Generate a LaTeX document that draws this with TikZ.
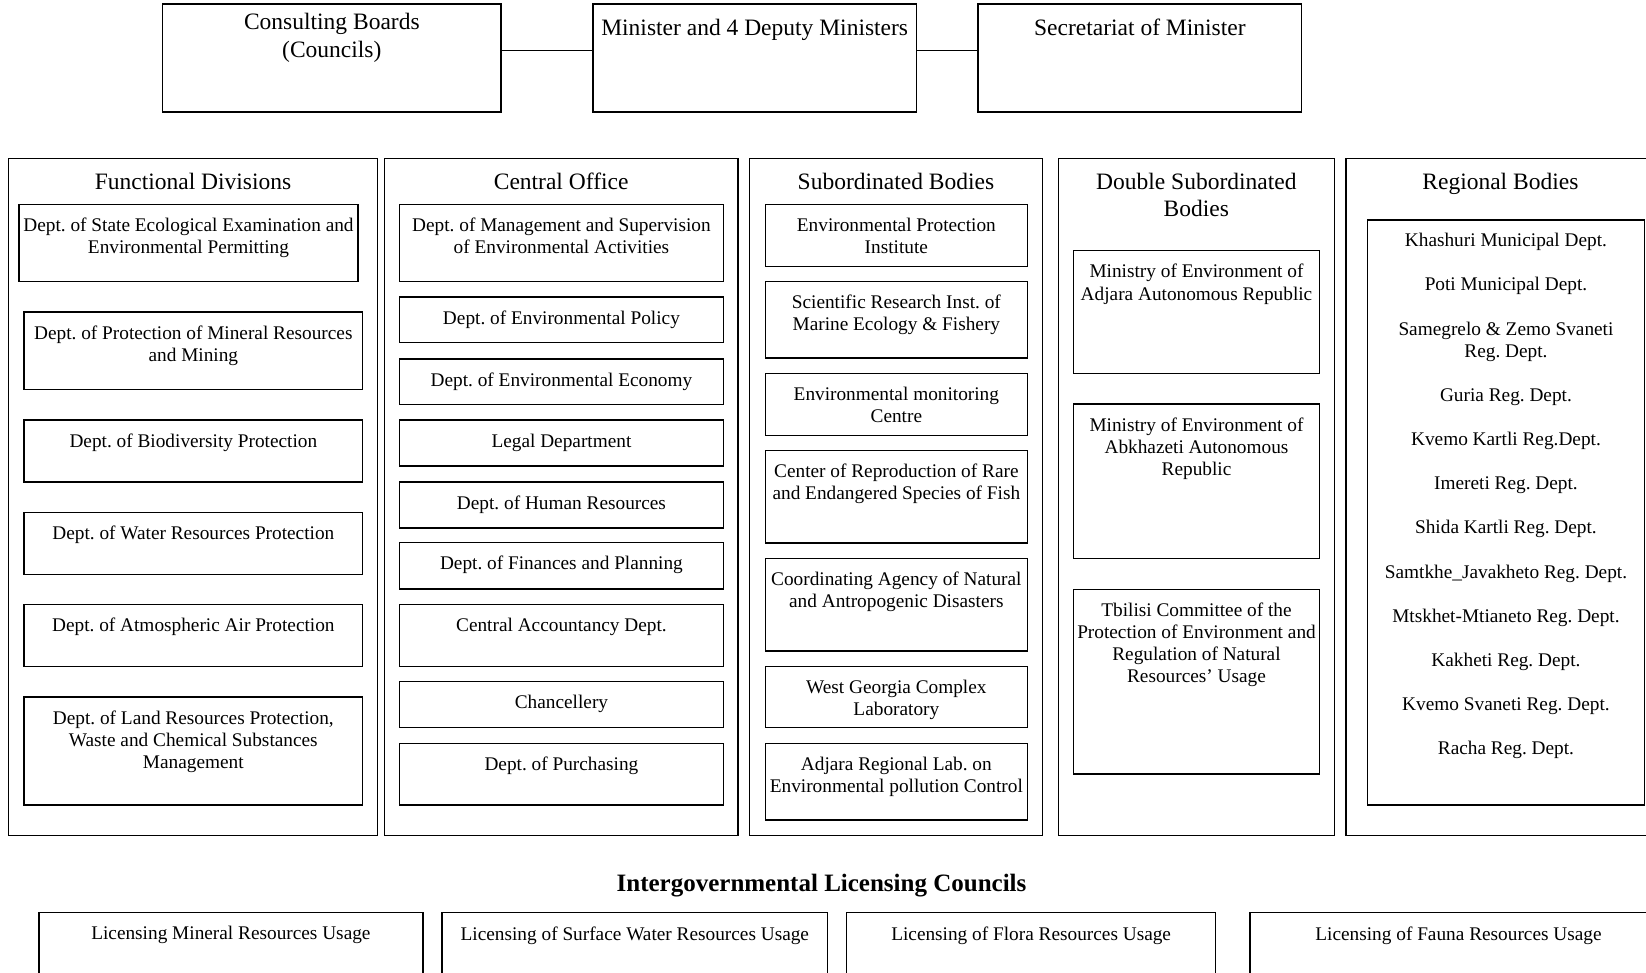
\documentclass[tikz,border=0pt]{standalone}
\usepackage{fontspec}
\setmainfont{Liberation Serif}
\frenchspacing
\tikzset{
  frame/.style={draw, line width=1.4pt, inner sep=0pt, outer sep=0pt, anchor=north west},
  txt/.style={inner sep=0pt, align=center, anchor=north, font=\fontsize{19.3}{22.1}\selectfont},
  headtxt/.style={inner sep=0pt, align=center, anchor=north, font=\fontsize{23.5}{27.6}\selectfont},
  conn/.style={line width=1.4pt},
}
% inner box: [offset]{name}{x1}{y1}{x2}{y2}{text}
\newcommand\ubox[7][13.5]{%
  \pgfmathsetmacro\bw{#5-#3}\pgfmathsetmacro\bh{#6-#4}%
  \node[frame, minimum width=\bw pt, minimum height=\bh pt] (#2) at (#3,#4) {};
  \node[txt] (#2-t) at ([yshift=-#1pt]#2.north) {#7};
}
% box with heading font
\newcommand\obox[7][14.5]{%
  \pgfmathsetmacro\bw{#5-#3}\pgfmathsetmacro\bh{#6-#4}%
  \node[frame, minimum width=\bw pt, minimum height=\bh pt] (#2) at (#3,#4) {};
  \node[headtxt] (#2-t) at ([yshift=-#1pt]#2.north) {#7};
}
\begin{document}
\begin{tikzpicture}[x=1pt,y=-1pt]
\useasboundingbox (0,0) rectangle (1646,972);
\fill[white] (0,0) rectangle (1646,972);

% top row
\obox[9]{cons}{162.7}{4}{501}{112}{Consulting Boards\\(Councils)}
\obox[15]{min}{593}{4}{916.4}{112}{Minister and 4 Deputy Ministers}
\obox[15]{sec}{978}{4}{1301.7}{112}{Secretariat of Minister}
\draw[conn] ([yshift=7.5pt]cons.east) -- ([yshift=7.5pt]min.west);
\draw[conn] ([yshift=7.5pt]min.east) -- ([yshift=7.5pt]sec.west);

% columns
\obox{fd}{8.4}{158.3}{377.7}{835.7}{Functional Divisions}
\obox{co}{384.3}{158.3}{738}{835.7}{Central Office}
\obox{sb}{749.5}{158.3}{1042.4}{835.7}{Subordinated Bodies}
\obox{dsb}{1058.2}{158.3}{1334.5}{835.7}{Double Subordinated\\Bodies}
\obox{rb}{1345.8}{158.3}{1655}{835.7}{Regional Bodies}

% Functional Divisions
\ubox{fd1}{19}{204.5}{358}{281.5}{Dept. of State Ecological Examination and\\Environmental Permitting}
\ubox{fd2}{24}{311.8}{362.7}{389.5}{Dept. of Protection of Mineral Resources\\and Mining}
\ubox{fd3}{24}{420}{362.7}{481.8}{Dept. of Biodiversity Protection}
\ubox{fd4}{24}{512.3}{362.7}{574.2}{Dept. of Water Resources Protection}
\ubox{fd5}{24}{604.6}{362.7}{666.6}{Dept. of Atmospheric Air Protection}
\ubox{fd6}{24}{697}{362.7}{805}{Dept. of Land Resources Protection,\\Waste and Chemical Substances\\Management}

% Central Office
\ubox{co1}{399.5}{204.5}{723.4}{281.5}{Dept. of Management and Supervision\\of Environmental Activities}
\ubox{co2}{399.5}{297}{723.4}{342.2}{Dept. of Environmental Policy}
\ubox{co3}{399.5}{359}{723.4}{404.2}{Dept. of Environmental Economy}
\ubox{co4}{399.5}{420}{723.4}{466}{Legal Department}
\ubox{co5}{399.5}{481.8}{723.4}{528}{Dept. of Human Resources}
\ubox{co6}{399.5}{542.7}{723.4}{589}{Dept. of Finances and Planning}
\ubox{co7}{399.5}{604.6}{723.4}{666.6}{Central Accountancy Dept.}
\ubox{co8}{399.5}{681.3}{723.4}{727.5}{Chancellery}
\ubox{co9}{399.5}{743.2}{723.4}{805}{Dept. of Purchasing}

% Subordinated Bodies
\ubox{sb1}{765.5}{204.5}{1027.2}{266.6}{Environmental Protection\\Institute}
\ubox{sb2}{765.5}{281.3}{1027.2}{358}{Scientific Research Inst. of\\Marine Ecology \& Fishery}
\ubox{sb3}{765.5}{373.7}{1027.2}{435.6}{Environmental monitoring\\Centre}
\ubox{sb4}{765.5}{450.5}{1027.2}{543}{Center of Reproduction of Rare\\and Endangered Species of Fish}
\ubox{sb5}{765.5}{558.4}{1027.2}{650.8}{Coordinating Agency of Natural\\and Antropogenic Disasters}
\ubox{sb6}{765.5}{666.6}{1027.2}{727.5}{West Georgia Complex\\Laboratory}
\ubox{sb7}{765.5}{743.2}{1027.2}{819.8}{Adjara Regional Lab. on\\Environmental pollution Control}

% Double Subordinated Bodies
\ubox{dsb1}{1073.4}{250.7}{1319.6}{373.7}{Ministry of Environment of\\Adjara Autonomous Republic}
\ubox{dsb2}{1073.4}{404.1}{1319.6}{558.4}{Ministry of Environment of\\Abkhazeti Autonomous\\Republic}
\ubox{dsb3}{1073.4}{589.3}{1319.6}{773.8}{Tbilisi Committee of the\\Protection of Environment and\\Regulation of Natural\\Resources’ Usage}

% Regional Bodies
\ubox[13]{rb1}{1367.4}{220}{1644.5}{805}{Khashuri Municipal Dept.\\[22.1pt]
Poti Municipal Dept.\\[22.1pt]
Samegrelo \& Zemo Svaneti\\Reg. Dept.\\[22.1pt]
Guria Reg. Dept.\\[22.1pt]
Kvemo Kartli Reg.Dept.\\[22.1pt]
Imereti Reg. Dept.\\[22.1pt]
Shida Kartli Reg. Dept.\\[22.1pt]
Samtkhe\_Javakheto Reg. Dept.\\[22.1pt]
Mtskhet-Mtianeto Reg. Dept.\\[22.1pt]
Kakheti Reg. Dept.\\[22.1pt]
Kvemo Svaneti Reg. Dept.\\[22.1pt]
Racha Reg. Dept.}

% Intergovernmental Licensing Councils
\node[inner sep=0pt, anchor=north, font=\bfseries\fontsize{25}{28}\selectfont] (igc) at (821.5,873.5) {Intergovernmental Licensing Councils};
\ubox[14]{lic1}{38.8}{912.3}{423}{1000}{Licensing Mineral Resources Usage}
\ubox[14]{lic2}{442}{912.3}{827.7}{1000}{Licensing of Surface Water Resources Usage}
\ubox[14]{lic3}{846.7}{912.3}{1215.6}{1000}{Licensing of Flora Resources Usage}
\ubox[14]{lic4}{1250}{912.3}{1667}{1000}{Licensing of Fauna Resources Usage}
\end{tikzpicture}
\end{document}
